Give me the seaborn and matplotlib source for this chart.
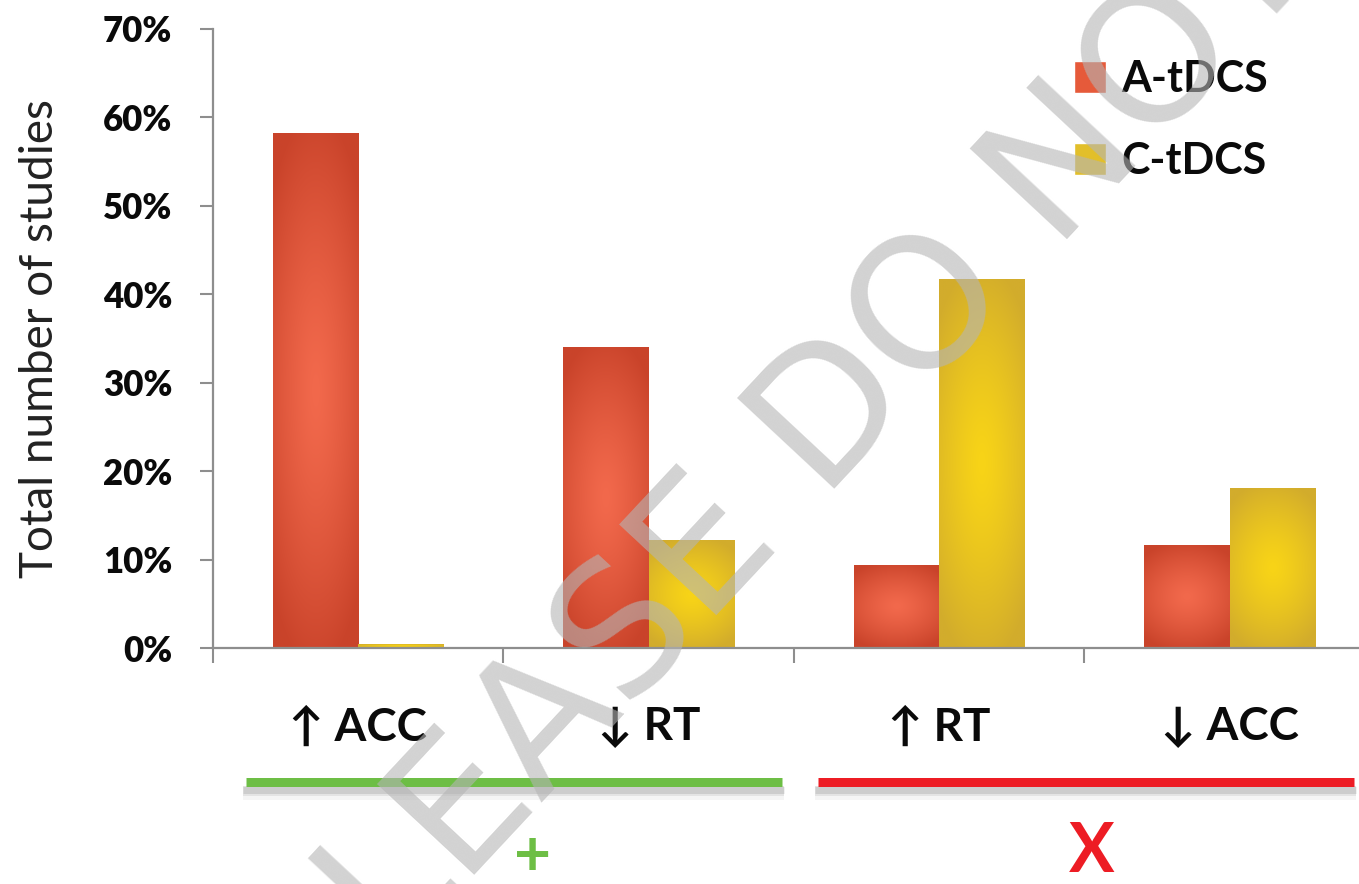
import numpy as np
import pandas as pd
import matplotlib
matplotlib.use("Agg")
import matplotlib.pyplot as plt
import seaborn as sns
from matplotlib.ticker import PercentFormatter
from matplotlib.lines import Line2D
from matplotlib.patches import Patch
from matplotlib.colors import to_rgb

# ---------------- data ----------------
categories = ["\u2191 ACC", "\u2193 RT", "\u2191 RT", "\u2193 ACC"]
series = ["A-tDCS", "C-tDCS"]
a_tdcs = [0.582, 0.340, 0.094, 0.116]
c_tdcs = [0.004, 0.122, 0.417, 0.181]
y_ticks = [0.0, 0.1, 0.2, 0.3, 0.4, 0.5, 0.6, 0.7]
group_symbols = ["+", "X"]
watermark = "PLEASE DO NOT COPY"

df = pd.DataFrame({
    "outcome": categories * 2,
    "stim": [series[0]] * len(categories) + [series[1]] * len(categories),
    "share": a_tdcs + c_tdcs,
})

# ---------------- style ----------------
sns.set_theme(style="white")
plt.rcParams["font.family"] = ["Lato", "DejaVu Sans"]

W, H = 1359, 884
fig = plt.figure(figsize=(W / 100, H / 100), dpi=100)
fig.patch.set_facecolor("white")
ax = fig.add_axes([213 / W, 1 - 648 / H, (W - 213) / W, (648 - 29) / H])

palette = {"A-tDCS": "#E4532F", "C-tDCS": "#E6BC1E"}
grad = {
    "A-tDCS": ("#F2694C", "#C9432A"),
    "C-tDCS": ("#F8D417", "#D2AC2C"),
}

sns.barplot(data=df, x="outcome", y="share", hue="stim", order=categories,
            hue_order=series, palette=palette, width=0.59, saturation=1,
            errorbar=None, legend=False, ax=ax)


def gradient(c_center, c_edge, n=160):
    s = np.linspace(-1, 1, n)[None, :]
    t = np.linspace(-1, 1, n)[:, None]
    r = np.clip(np.sqrt((0.75 * s) ** 2 + t ** 2) / 1.1, 0, 1) ** 1.3
    c0 = np.array(to_rgb(c_center))
    c1 = np.array(to_rgb(c_edge))
    return c0[None, None, :] + (c1 - c0)[None, None, :] * r[..., None]


imgs = {k: gradient(*v) for k, v in grad.items()}
for p in list(ax.patches):
    fc = p.get_facecolor()[:3]
    key = min(palette, key=lambda k: np.sum((np.array(to_rgb(palette[k])) - np.array(fc)) ** 2))
    x0, w, h = p.get_x(), p.get_width(), p.get_height()
    if h <= 0:
        continue
    im = ax.imshow(imgs[key], extent=[x0, x0 + w, 0, h], aspect="auto",
                   interpolation="bilinear", zorder=p.get_zorder() + 0.1)
    im.set_clip_path(p)

ax.set_xlim(-0.5, 3.445)
ax.set_ylim(0, 0.7)
ax.set_yticks(y_ticks)
ax.yaxis.set_major_formatter(PercentFormatter(1.0, decimals=0))

spine_c = "#8E8E8E"
for side in ["top", "right"]:
    ax.spines[side].set_visible(False)
for side in ["left", "bottom"]:
    ax.spines[side].set_color(spine_c)
    ax.spines[side].set_linewidth(1.6)

ax.tick_params(axis="y", which="major", left=True, direction="out", length=9.5,
               width=1.5, color=spine_c, pad=20, labelsize=25, labelcolor="#0A0A0A")
for lab in ax.get_yticklabels():
    lab.set_fontweight("heavy")

ax.set_xticks([-0.5, 0.5, 1.5, 2.5], minor=True)
ax.tick_params(axis="x", which="minor", bottom=True, direction="out", length=11,
               width=1.5, color=spine_c)
ax.tick_params(axis="x", which="major", bottom=False, length=0, pad=42,
               labelsize=33, labelcolor="#0A0A0A")
for lab in ax.get_xticklabels():
    lab.set_fontweight("bold")
    lab.set_family(["Lato", "DejaVu Sans"])

ax.set_xlabel("")
ax.set_ylabel("Total number of studies", fontsize=33, color="#222222")
ax.yaxis.set_label_coords((61 - 213) / (W - 213), 0.5)

# legend
handles = [Patch(facecolor=c) for c in ["#E65A3A", "#E2BF2A"]]
leg = ax.legend(handles, series, loc="upper left",
                bbox_to_anchor=(1074 / W, 1 - 59 / H), bbox_transform=fig.transFigure,
                frameon=False, prop=dict(weight="bold", size=31),
                handlelength=0.75, handleheight=0.75, handletextpad=0.35,
                labelspacing=0.98, borderpad=0, borderaxespad=0)
for t in leg.get_texts():
    t.set_color("#0A0A0A")

# group lines below axis with soft shadow
groups = [(246, 782, "#6DBE45"), (818, 1354, "#ED1C24")]
for x0, x1, col in groups:
    for off, lw, a in [(11, 14, 0.06), (9, 10, 0.10), (8, 7, 0.16)]:
        fig.add_artist(Line2D([(x0 - 3) / W, (x1 + 2) / W], [1 - (782 + off) / H] * 2,
                              color="#555555", lw=lw * 0.72, alpha=a,
                              solid_capstyle="butt"))
    fig.add_artist(Line2D([x0 / W, x1 / W], [1 - 782 / H] * 2, color=col,
                          lw=9 * 0.72, solid_capstyle="butt"))

fig.text(533 / W, 1 - 857 / H, group_symbols[0], color="#6DBE45", fontsize=46,
         fontweight="bold", ha="center", va="center")
fig.text(1092 / W, 1 - 853 / H, group_symbols[1], color="#ED1C24", fontsize=49,
         fontweight="bold", ha="center", va="center")

# diagonal watermark, placed so that the "D" of "DO" is centred near (818, 410) px
theta = 47.0
wm_size = 131
em = wm_size * 100 / 72.0
u = np.array([np.cos(np.radians(theta)), -np.sin(np.radians(theta))])
v = np.array([-np.sin(np.radians(theta)), -np.cos(np.radians(theta))])
d_base = np.array([812.0, 420.0]) - 64.0 * v
start = d_base - 4.348 * em * u
fig.text(start[0] / W, 1 - start[1] / H, watermark, rotation=theta,
         rotation_mode="anchor", ha="left", va="baseline", fontsize=wm_size,
         family="DejaVu Sans", color="#B5B5B5", alpha=0.6, zorder=10)

fig.savefig("out.png", dpi=100, facecolor="white")
